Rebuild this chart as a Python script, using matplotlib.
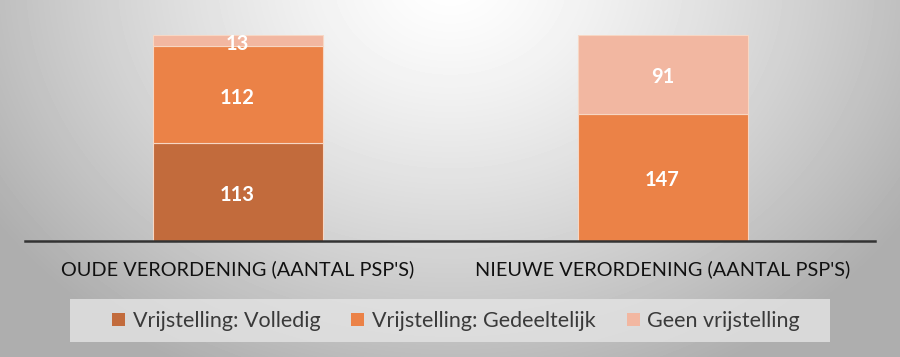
import numpy as np
import matplotlib
matplotlib.use("Agg")
import matplotlib.pyplot as plt
from matplotlib.patches import Rectangle
from matplotlib.transforms import offset_copy

categories = ["OUDE VERORDENING (AANTAL PSP'S)", "NIEUWE VERORDENING (AANTAL PSP'S)"]
series_names = ["Vrijstelling: Volledig", "Vrijstelling: Gedeeltelijk", "Geen vrijstelling"]
volledig = [113, 0]
gedeeltelijk = [112, 147]
geen = [13, 91]
colors = ["#C26B3C", "#EB8247", "#F2B7A1"]

plt.rcParams['font.family'] = ['Lato', 'DejaVu Sans']

fig = plt.figure(figsize=(9, 3.57), dpi=100)

# radial gradient background
bg = fig.add_axes([0, 0, 1, 1])
bg.set_axis_off()
W, H = 900, 357
yy, xx = np.mgrid[0:H, 0:W]
d = np.sqrt(((xx - 450) / 520.0) ** 2 + ((yy + 20) / 420.0) ** 2)
val = np.clip(1.0 - 0.30 * d ** 1.3, 0.68, 1.0)
bg.imshow(val, cmap='gray', vmin=0, vmax=1, extent=[0, W, H, 0], aspect='auto')
bg.set_xlim(0, W)
bg.set_ylim(H, 0)
# legend box
bg.add_patch(Rectangle((70, 299), 760, 43, facecolor='#E4E4E4', edgecolor='none', alpha=0.8))

ax = fig.add_axes([25 / 900, (357 - 241) / 357, 850 / 900, 206 / 357])
ax.patch.set_alpha(0)
x = np.arange(len(categories))
series = [volledig, gedeeltelijk, geen]
bottom = np.zeros(len(categories))
txt_tr = offset_copy(ax.transData, fig=fig, x=0, y=-3, units='dots')
for name, vals, c in zip(series_names, series, colors):
    vals = np.array(vals, dtype=float)
    ax.bar(x, vals, width=0.4, bottom=bottom, color=c, edgecolor='#F7D7C4',
           linewidth=0.8, label=name, zorder=2)
    for xi, v, b in zip(x, vals, bottom):
        if v > 0:
            ax.text(xi, b + v / 2, f"{int(v)}", ha='center', va='center', color='white',
                    fontsize=14.5, fontweight='bold', zorder=3, transform=txt_tr)
    bottom += vals

ax.set_xlim(-0.5, 1.5)
ax.set_ylim(0, 238)
for s in ['top', 'right', 'left']:
    ax.spines[s].set_visible(False)
ax.spines['bottom'].set_color('#333333')
ax.spines['bottom'].set_linewidth(1.8)
ax.set_yticks([])
ax.set_xticks(x)
ax.set_xticklabels(categories, fontsize=14.3, color='#111111')
ax.tick_params(axis='x', length=0, pad=14)

handles, labels = ax.get_legend_handles_labels()
leg = fig.legend(handles, labels, loc='center', bbox_to_anchor=(456 / 900, 1 - 321 / 357),
                 ncol=3, frameon=False, fontsize=15.5, handlelength=0.6, handleheight=0.6,
                 handletextpad=0.35, columnspacing=1.45, labelcolor='#3A3A3A')
for h in leg.legend_handles:
    h.set_edgecolor('none')

fig.savefig('out.png', dpi=100)
